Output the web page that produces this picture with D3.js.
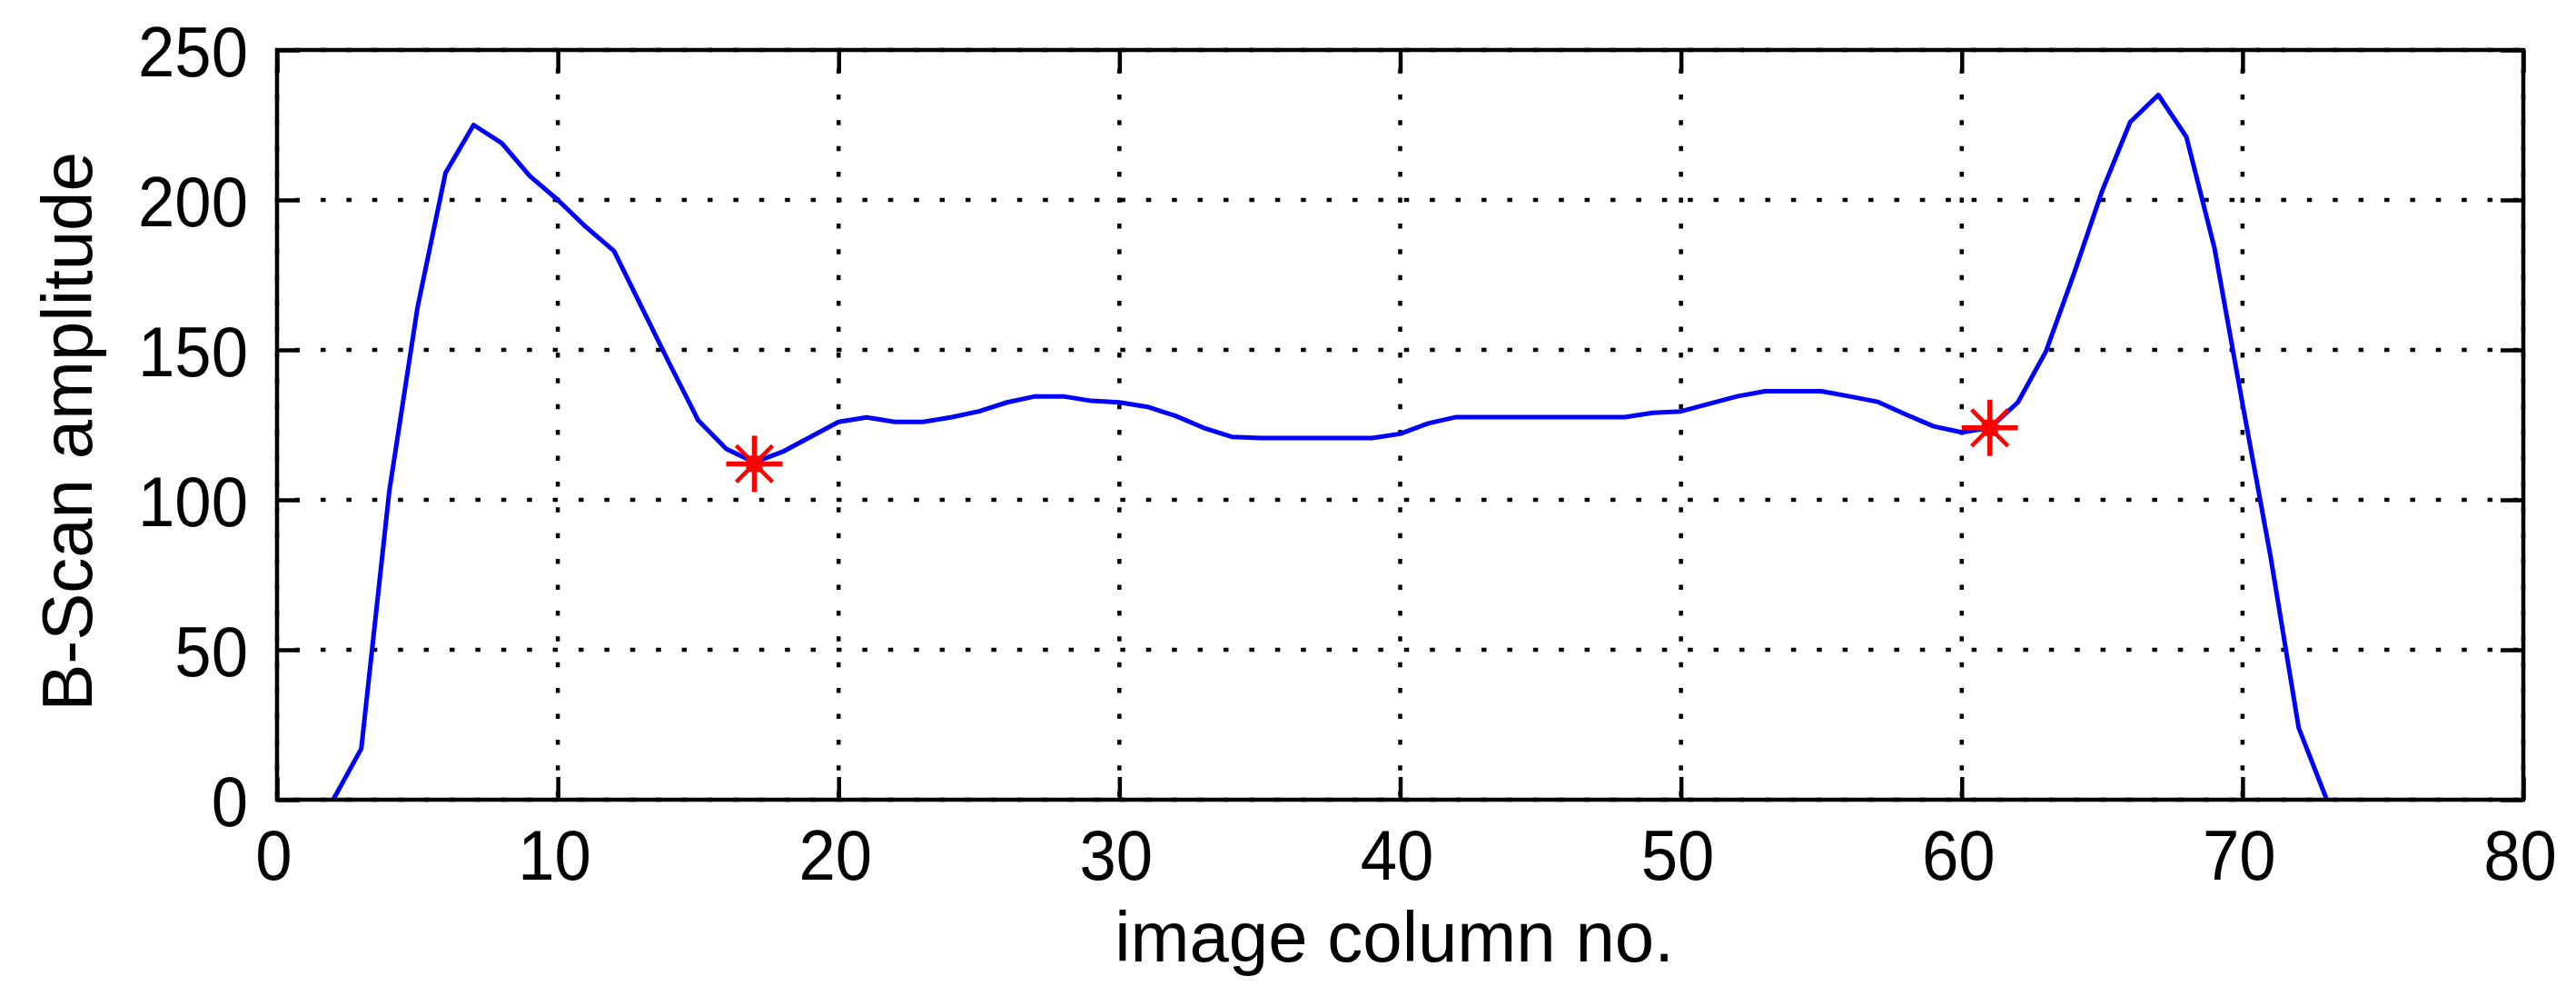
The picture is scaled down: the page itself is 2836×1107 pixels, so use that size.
<!DOCTYPE html>
<html>
<head>
<meta charset="utf-8">
<script src="https://cdn.jsdelivr.net/npm/d3@7"></script>
<style>
html,body{margin:0;padding:0;background:#ffffff;}
svg{display:block;}
</style>
</head>
<body>
<svg id="chart" width="2836" height="1107"></svg>
<script>
// ---- data ----
const columns = [2,3,4,5,6,7,8,9,10,11,12,13,14,15,16,17,18,19,20,21,22,23,24,25,26,27,28,29,30,31,32,33,34,35,36,37,38,39,40,41,42,43,44,45,46,47,48,49,50,51,52,53,54,55,56,57,58,59,60,61,62,63,64,65,66,67,68,69,70,71,72,73];
const amplitude = [0,17,103,164,209,225,219,208,200,191,183,164,145,126.5,117,112.5,116,121,126,127.5,126,126,127.5,129.5,132.5,134.5,134.5,133,132.5,131,128,124,121,120.6,120.6,120.6,120.6,120.6,122,125.5,127.6,127.6,127.6,127.6,127.6,127.6,127.6,129,129.5,132,134.5,136.2,136.2,136.2,134.5,132.7,128.5,124.5,122.5,124,132.5,149.5,175.5,203,226,235,221,184,132,81,24,0];
const markerColumns = [17, 61];
const markerAmplitudes = [112, 124];
const xTicks = [0,10,20,30,40,50,60,70,80];
const yTicks = [0,50,100,150,200,250];
const xLabel = "image column no.";
const yLabel = "B-Scan amplitude";

// ---- layout ----
const svg = d3.select("#chart");
const L = 305, R = 2778, T = 55, B = 880;
const x = d3.scaleLinear().domain([0, 80]).range([L, R]);
const y = d3.scaleLinear().domain([0, 250]).range([B, T]);
const FONT = "'Liberation Sans', Arial, Helvetica, sans-serif";
const FS = 78;
const TICK = 25;

svg.append("rect").attr("x",0).attr("y",0).attr("width",2836).attr("height",1107).attr("fill","#fff");

// grid (dotted)
const grid = svg.append("g").attr("stroke","#000").attr("stroke-width",4.5)
  .attr("stroke-dasharray","5.5,22.9");
grid.selectAll("line.gx").data(xTicks).join("line")
  .attr("class","gx")
  .attr("x1", d => x(d)).attr("x2", d => x(d))
  .attr("y1", T).attr("y2", B)
  .attr("stroke-dashoffset", 7.9);
grid.selectAll("line.gy").data(yTicks).join("line")
  .attr("class","gy")
  .attr("y1", d => y(d)).attr("y2", d => y(d))
  .attr("x1", L).attr("x2", R)
  .attr("stroke-dashoffset", 8.8);

// axes (ticks pointing inward)
function styleAxis(g, showText){
  g.select(".domain").remove();
  g.selectAll(".tick line").attr("stroke","#000").attr("stroke-width",4.5);
  if(!showText) g.selectAll(".tick text").remove();
  else g.selectAll(".tick text").attr("fill","#000")
        .style("font-family", FONT).style("font-size", FS + "px");
}
const gBottom = svg.append("g").attr("transform",`translate(0,${B})`)
  .call(d3.axisBottom(x).tickValues(xTicks).tickSize(-TICK).tickPadding(33).tickFormat(d3.format("d")));
styleAxis(gBottom, true);
gBottom.selectAll(".tick text").attr("x", -4);

const gTop = svg.append("g").attr("transform",`translate(0,${T})`)
  .call(d3.axisTop(x).tickValues(xTicks).tickSize(-TICK));
styleAxis(gTop, false);

const gLeft = svg.append("g").attr("transform",`translate(${L},0)`)
  .call(d3.axisLeft(y).tickValues(yTicks).tickSize(-TICK).tickPadding(32).tickFormat(d3.format("d")));
styleAxis(gLeft, true);
gLeft.selectAll(".tick text").attr("dy","0.36em");

const gRight = svg.append("g").attr("transform",`translate(${R},0)`)
  .call(d3.axisRight(y).tickValues(yTicks).tickSize(-TICK));
styleAxis(gRight, false);

// narrow the digit glyphs like the bitmap font of the reference
svg.selectAll(".tick text").each(function(){
  const w = this.getComputedTextLength();
  d3.select(this).attr("textLength", w * 0.93).attr("lengthAdjust","spacingAndGlyphs");
});

// data line
const pts = columns.map((c,i) => [c, amplitude[i]]);
svg.append("path")
  .datum(pts)
  .attr("fill","none")
  .attr("stroke","#0000ff")
  .attr("stroke-width",5)
  .attr("stroke-linejoin","round")
  .attr("d", d3.line().x(d => x(d[0])).y(d => y(d[1])));

// red star markers
const mk = svg.append("g").attr("stroke","#ff0000").attr("fill","#ff0000");
const markers = markerColumns.map((c,i) => [c, markerAmplitudes[i]]);
markers.forEach(([c,a]) => {
  const cx = x(c), cy = y(a);
  const g = mk.append("g").attr("transform",`translate(${cx},${cy})`);
  g.append("line").attr("x1",-31).attr("x2",31).attr("y1",0).attr("y2",0).attr("stroke-width",5.5);
  g.append("line").attr("x1",0).attr("x2",0).attr("y1",-31).attr("y2",31).attr("stroke-width",5.5);
  g.append("line").attr("x1",-20).attr("x2",20).attr("y1",-20).attr("y2",20).attr("stroke-width",4.5);
  g.append("line").attr("x1",-20).attr("x2",20).attr("y1",20).attr("y2",-20).attr("stroke-width",4.5);
  g.append("rect").attr("x",-9).attr("y",-9).attr("width",18).attr("height",18).attr("stroke","none");
});

// frame
svg.append("rect").attr("x",L).attr("y",T).attr("width",R-L).attr("height",B-T)
  .attr("fill","none").attr("stroke","#000").attr("stroke-width",4.5);

// axis labels
svg.append("text")
  .attr("x", 1535).attr("y", 1058)
  .attr("text-anchor","middle")
  .style("font-family", FONT).style("font-size", FS + "px")
  .attr("fill","#000")
  .text(xLabel);
svg.append("text")
  .attr("transform","translate(101,475) rotate(-90)")
  .attr("text-anchor","middle")
  .style("font-family", FONT).style("font-size", FS + "px")
  .attr("fill","#000")
  .text(yLabel);
</script>
</body>
</html>
